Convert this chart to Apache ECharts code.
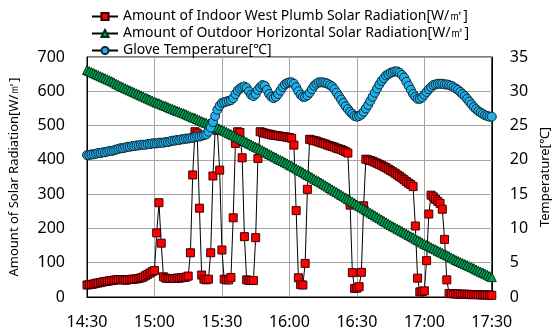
<!DOCTYPE html>
<html>
<head>
<meta charset="utf-8">
<script src="https://cdn.jsdelivr.net/npm/echarts@6/dist/echarts.min.js"></script>
<style>
  html, body { margin: 0; padding: 0; background: #fff; }
  #chart { width: 560px; height: 333px; }
</style>
</head>
<body>
<div id="chart"></div>
<script>
// x tick labels, one every 30 minutes from 14:30
var timeLabels = ["14:30", "15:00", "15:30", "16:00", "16:30", "17:00", "17:30"];

// one reading per minute, 14:30 .. 17:30 (181 values)
var indoorWest = [
  35, 36, 37, 38, 40, 41, 42, 44, 45, 46, 47, 48, 49, 50, 51,
  51, 50, 49, 50, 51, 52, 52, 53, 54, 56, 58, 62, 66, 70, 74,
  77, 187, 275, 157, 59, 55, 54, 54, 54, 54, 55, 55, 56, 57, 58,
  61, 129, 356, 482, 478, 259, 64, 52, 50, 52, 129, 353, 490, 486, 370,
  137, 52, 50, 50, 57, 231, 448, 482, 480, 406, 176, 50, 48, 48, 48,
  173, 404, 482, 480, 478, 476, 475, 473, 472, 471, 470, 469, 468, 467, 466,
  465, 463, 443, 252, 56, 36, 35, 98, 314, 460, 458, 456, 455, 452, 450,
  448, 446, 443, 441, 439, 437, 434, 432, 430, 427, 424, 420, 268, 71, 25,
  26, 30, 72, 266, 402, 400, 398, 396, 393, 390, 387, 384, 380, 377, 373,
  369, 365, 361, 356, 352, 347, 342, 337, 332, 328, 322, 207, 55, 15, 15,
  18, 106, 242, 297, 292, 285, 279, 273, 256, 168, 50, 10, 10, 9, 9,
  9, 8, 8, 8, 8, 7, 7, 7, 7, 7, 6, 6, 6, 6, 5, 5
];

var outdoorHorizontal = [
  662, 659, 656, 653, 650, 647, 644, 641, 638, 635, 632, 629, 626, 622, 619,
  615, 612, 609, 606, 603, 600, 597, 594, 591, 588, 585, 582, 579, 576, 573,
  570, 567, 565, 562, 559, 557, 554, 551, 549, 546, 543, 541, 538, 536, 533,
  530, 527, 524, 522, 519, 516, 513, 510, 508, 505, 502, 499, 496, 494, 491,
  488, 485, 482, 478, 475, 472, 468, 465, 462, 458, 455, 452, 448, 445, 441,
  438, 435, 431, 428, 424, 421, 417, 414, 410, 407, 403, 400, 397, 393, 390,
  386, 383, 379, 375, 371, 368, 364, 360, 356, 353, 349, 345, 341, 338, 334,
  330, 326, 322, 318, 314, 310, 306, 302, 298, 294, 290, 286, 282, 278, 274,
  270, 266, 262, 258, 254, 250, 246, 242, 238, 234, 230, 226, 222, 218, 214,
  210, 206, 203, 199, 196, 192, 188, 185, 181, 177, 174, 170, 166, 163, 159,
  155, 152, 149, 145, 142, 139, 135, 132, 129, 125, 122, 119, 115, 112, 108,
  105, 102, 99, 96, 93, 90, 87, 84, 80, 77, 74, 71, 68, 65, 61, 58
];

var globeTemp = [
  20.7, 20.7, 20.8, 20.8, 20.9, 21.0, 21.0, 21.1, 21.1, 21.2, 21.3, 21.3, 21.4, 21.5, 21.6,
  21.7, 21.7, 21.8, 21.9, 21.9, 22.0, 22.0, 22.1, 22.1, 22.2, 22.2, 22.2, 22.3, 22.3, 22.4,
  22.4, 22.4, 22.5, 22.5, 22.5, 22.6, 22.6, 22.7, 22.8, 22.8, 22.9, 22.9, 23.0, 23.0, 23.1,
  23.1, 23.2, 23.2, 23.3, 23.4, 23.4, 23.5, 23.6, 23.7, 24.1, 24.7, 25.5, 26.4, 27.3, 27.9,
  28.3, 28.4, 28.5, 28.6, 28.7, 29.0, 29.6, 30.1, 30.4, 30.6, 30.7, 30.5, 30.0, 29.5, 29.3,
  29.6, 30.2, 30.6, 30.9, 30.8, 30.2, 29.6, 29.2, 29.0, 29.2, 29.6, 30.1, 30.6, 31.0, 31.2,
  31.3, 31.3, 31.1, 30.6, 30.0, 29.5, 29.2, 29.2, 29.4, 29.8, 30.3, 30.8, 31.1, 31.3, 31.3,
  31.3, 31.2, 31.1, 30.9, 30.7, 30.3, 29.8, 29.3, 28.8, 28.3, 27.8, 27.4, 27.0, 26.7, 26.4,
  26.3, 26.4, 26.6, 27.0, 27.5, 28.0, 28.6, 29.2, 29.8, 30.4, 31.0, 31.5, 31.9, 32.3, 32.5,
  32.7, 32.8, 32.9, 32.9, 32.7, 32.4, 32.0, 31.4, 30.8, 30.2, 29.6, 29.2, 28.9, 28.9, 29.1,
  29.5, 29.9, 30.3, 30.6, 30.9, 31.0, 31.1, 31.1, 31.1, 31.0, 31.0, 30.9, 30.8, 30.6, 30.4,
  30.2, 29.9, 29.6, 29.3, 28.9, 28.5, 28.1, 27.7, 27.4, 27.1, 26.9, 26.7, 26.5, 26.4, 26.3, 26.3
];

var FONT = "Noto Sans";

function toPairs(arr) {
  var res = [];
  for (var i = 0; i < arr.length; i++) {
    res.push([i, arr[i]]);
  }
  return res;
}

var myChart = echarts.init(document.getElementById("chart"), null, { renderer: "canvas" });

var option = {
  animation: false,
  backgroundColor: "#fff",
  textStyle: { fontFamily: FONT, color: "#000" },
  grid: {
    left: 86, right: 63, top: 57, bottom: 36,
    show: true, borderColor: "#000", borderWidth: 1
  },
  legend: {
    orient: "vertical",
    left: 86, top: 4,
    itemGap: 2,
    itemWidth: 26, itemHeight: 9,
    textStyle: { fontFamily: FONT, fontSize: 14, lineHeight: 15, color: "#000" },
    data: [
      "Amount of Indoor West Plumb Solar Radiation[W/㎡]",
      "Amount of Outdoor Horizontal Solar Radiation[W/㎡]",
      "Glove Temperature[℃]"
    ]
  },
  xAxis: {
    type: "value",
    min: 0, max: 180, interval: 30,
    axisLine: { lineStyle: { color: "#000", width: 1 } },
    axisTick: { show: false },
    axisLabel: {
      fontFamily: FONT, fontSize: 16, color: "#000", margin: 17,
      formatter: function (v) { return timeLabels[Math.round(v / 30)]; }
    },
    splitLine: { show: true, lineStyle: { color: "#a6a6a6", width: 1 } }
  },
  yAxis: [
    {
      type: "value",
      min: 0, max: 700, interval: 100,
      name: "Amount of Solar Radiation[W/㎡]",
      nameLocation: "middle", nameGap: 66, nameRotate: 90,
      nameTextStyle: { fontFamily: FONT, fontSize: 13, color: "#000" },
      axisLine: { show: true, lineStyle: { color: "#000", width: 1 } },
      axisTick: { show: false },
      axisLabel: { fontFamily: FONT, fontSize: 16, color: "#000", margin: 22 },
      splitLine: { show: true, lineStyle: { color: "#a6a6a6", width: 1 } }
    },
    {
      type: "value",
      min: 0, max: 35, interval: 5,
      name: "Temperature[℃]",
      nameLocation: "middle", nameGap: 46, nameRotate: 90,
      nameTextStyle: { fontFamily: FONT, fontSize: 13, color: "#000" },
      axisLine: { show: true, lineStyle: { color: "#000", width: 1 } },
      axisTick: { show: false },
      axisLabel: { fontFamily: FONT, fontSize: 16, color: "#000", margin: 18 },
      splitLine: { show: false }
    }
  ],
  series: [
    {
      name: "Amount of Indoor West Plumb Solar Radiation[W/㎡]",
      type: "line",
      yAxisIndex: 0,
      data: toPairs(indoorWest),
      symbol: "rect",
      symbolSize: 8,
      lineStyle: { color: "#000", width: 1 },
      itemStyle: { color: "#ff0000", borderColor: "#3a0000", borderWidth: 1 }
    },
    {
      name: "Amount of Outdoor Horizontal Solar Radiation[W/㎡]",
      type: "line",
      yAxisIndex: 0,
      data: toPairs(outdoorHorizontal),
      symbol: "triangle",
      symbolSize: 9,
      lineStyle: { color: "#000", width: 1 },
      itemStyle: { color: "#00a050", borderColor: "#003018", borderWidth: 1 }
    },
    {
      name: "Glove Temperature[℃]",
      type: "line",
      yAxisIndex: 1,
      data: toPairs(globeTemp),
      symbol: "circle",
      symbolSize: 9,
      lineStyle: { color: "#000", width: 1 },
      itemStyle: { color: "#22b0e8", borderColor: "#0b2a3a", borderWidth: 1 }
    }
  ]
};

myChart.setOption(option);
window.addEventListener("resize", function () {
  myChart.resize();
});
</script>
</body>
</html>
